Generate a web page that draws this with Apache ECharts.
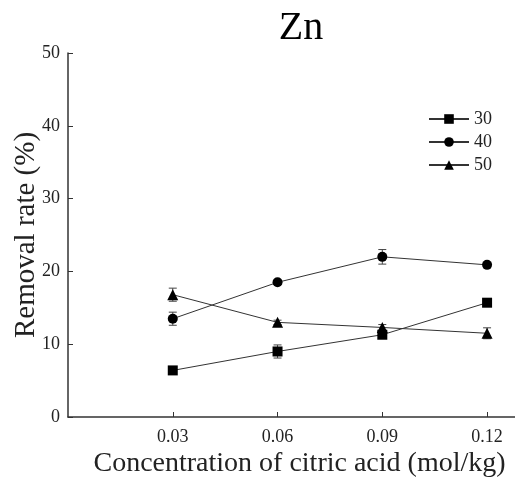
<!DOCTYPE html>
<html>
<head>
<meta charset="utf-8">
<script src="https://cdn.jsdelivr.net/npm/echarts@6/dist/echarts.min.js"></script>
<style>html,body{margin:0;padding:0;background:#fff;}#c{width:515px;height:484px;}</style>
</head>
<body>
<div id="c"></div>
<script>
const categories = [0.03, 0.06, 0.09, 0.12];
const tickLabels = ['0.03', '0.06', '0.09', '0.12'];
const seriesNames = ['30', '40', '50'];
const values30 = [6.4, 9.0, 11.3, 15.7];
const values40 = [13.5, 18.5, 22.0, 20.9];
const values50 = [16.8, 13.0, 12.3, 11.5];
const err30 = [0.3, 0.9, 0.5, 0.3];
const err40 = [0.9, 0.3, 1.0, 0.3];
const err50 = [0.9, 0.3, 0.4, 0.75];

const FONT = '"Liberation Serif", "Times New Roman", serif';
const chart = echarts.init(document.getElementById('c'));

function lineSeries(name, vals, symbol) {
  return {
    name: name, type: 'line', symbol: symbol, symbolSize: symbol === 'triangle' ? 11 : 10,
    data: categories.map((c, i) => [c, vals[i]]),
    itemStyle: { color: '#000' },
    lineStyle: { color: '#333', width: 1 },
    z: 3
  };
}
function errSeries(vals, errs) {
  return {
    type: 'custom', silent: true, z: 2,
    data: categories.map((c, i) => [c, vals[i] - errs[i], vals[i] + errs[i]]),
    renderItem: function (params, api) {
      const lo = api.coord([api.value(0), api.value(1)]);
      const hi = api.coord([api.value(0), api.value(2)]);
      const w = 4;
      const st = { stroke: '#444', lineWidth: 1 };
      return { type: 'group', children: [
        { type: 'line', shape: { x1: lo[0], y1: lo[1], x2: hi[0], y2: hi[1] }, style: st },
        { type: 'line', shape: { x1: lo[0] - w, y1: lo[1], x2: lo[0] + w, y2: lo[1] }, style: st },
        { type: 'line', shape: { x1: hi[0] - w, y1: hi[1], x2: hi[0] + w, y2: hi[1] }, style: st }
      ]};
    }
  };
}

chart.setOption({
  animation: false,
  backgroundColor: '#fff',
  title: { text: 'Zn', left: 296, top: 3, textAlign: 'center',
    textStyle: { fontFamily: FONT, fontSize: 40, fontWeight: 'normal', color: '#000' } },
  legend: {
    data: seriesNames, orient: 'vertical', left: 423, top: 105, itemGap: 5,
    itemWidth: 40, itemHeight: 12,
    textStyle: { fontFamily: FONT, fontSize: 18, color: '#222' }
  },
  grid: { left: 68, top: 53, right: -7, bottom: 67, containLabel: false, outerBoundsMode: 'none' },
  xAxis: {
    type: 'value', min: 0, max: 0.13, interval: 0.03,
    name: 'Concentration of citric acid (mol/kg)', nameLocation: 'middle', nameGap: 33,
    nameMoveOverlap: false,
    nameTextStyle: { fontFamily: FONT, fontSize: 28, color: '#222', padding: [0, 0, 0, 9] },
    axisLine: { lineStyle: { color: '#333', width: 1.5 } },
    axisTick: { inside: true, length: 5, lineStyle: { color: '#333' }, customValues: categories },
    splitLine: { show: false },
    axisLabel: { margin: 11, fontFamily: FONT, fontSize: 18, color: '#222', customValues: categories,
      formatter: function (v) {
        for (let i = 0; i < categories.length; i++) if (Math.abs(v - categories[i]) < 1e-6) return tickLabels[i];
        return '';
      } }
  },
  yAxis: {
    type: 'value', min: 0, max: 50, interval: 10,
    name: 'Removal rate (%)', nameLocation: 'middle', nameGap: 27,
    nameMoveOverlap: false,
    nameTextStyle: { fontFamily: FONT, fontSize: 29, color: '#222' },
    axisLine: { show: true, lineStyle: { color: '#333', width: 1.5 } },
    axisTick: { show: true, inside: true, length: 5, lineStyle: { color: '#333' } },
    splitLine: { show: false },
    axisLabel: { margin: 8, fontFamily: FONT, fontSize: 18, color: '#222' }
  },
  series: [
    lineSeries('30', values30, 'rect'),
    lineSeries('40', values40, 'circle'),
    lineSeries('50', values50, 'triangle'),
    errSeries(values30, err30),
    errSeries(values40, err40),
    errSeries(values50, err50)
  ]
});
</script>
</body>
</html>
